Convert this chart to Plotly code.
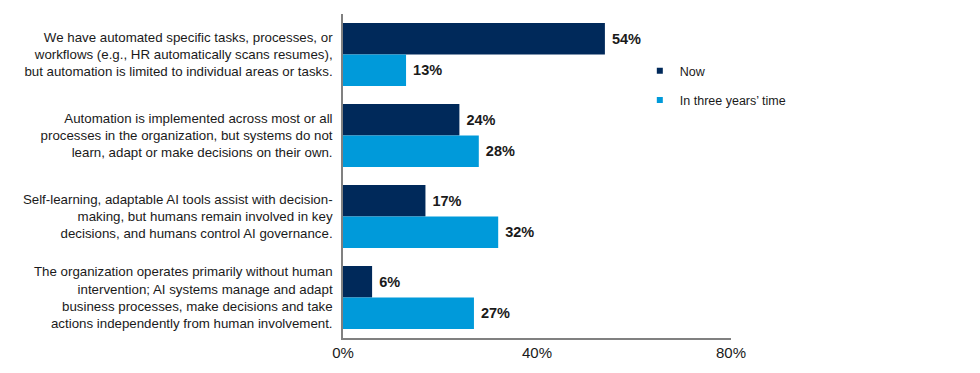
import plotly.graph_objects as go

categories = [
    "We have automated specific tasks, processes, or<br>workflows (e.g., HR automatically scans resumes),<br>but automation is limited to individual areas or tasks.",
    "Automation is implemented across most or all<br>processes in the organization, but systems do not<br>learn, adapt or make decisions on their own.",
    "Self-learning, adaptable AI tools assist with decision-<br>making, but humans remain involved in key<br>decisions, and humans control AI governance.",
    "The organization operates primarily without human<br>intervention; AI systems manage and adapt<br>business processes, make decisions and take<br>actions independently from human involvement.",
]
now_values = [54, 24, 17, 6]
future_values = [13, 28, 32, 27]
series_names = ["Now", "In three years\u2019 time"]
x_tickvals = [0, 40, 80]
x_ticktext = ["0%", "40%", "80%"]

c_now = "#00295A"
c_future = "#009ADA"
font_family = "Liberation Sans, Arial, sans-serif"

fig = go.Figure()
for name, vals, col in [(series_names[0], now_values, c_now), (series_names[1], future_values, c_future)]:
    fig.add_trace(go.Bar(
        y=categories, x=vals, orientation="h", name=name,
        marker=dict(color=col, line=dict(width=0)),
        text=[f"\u00a0{v}%" for v in vals],
        textposition="outside", cliponaxis=False,
        textfont=dict(family=font_family, size=14.5, color="#1a1a1a", weight="bold"),
        showlegend=False,
    ))
    fig.add_trace(go.Scatter(
        x=[None], y=[None], mode="markers", name=name, legendgroup=name,
        marker=dict(symbol="square", size=6, color=col),
        showlegend=True,
    ))

fig.update_layout(
    width=980, height=373,
    margin=dict(l=335, r=257, t=6, b=43),
    paper_bgcolor="white", plot_bgcolor="white",
    barmode="group", bargap=0.22, bargroupgap=0.0,
    font=dict(family=font_family, size=13.3, color="#1a1a1a"),
    legend=dict(x=0.765, y=0.87, xanchor="left", yanchor="top",
                font=dict(size=12.5, color="#1a1a1a"), itemwidth=30,
                tracegroupgap=10, bgcolor="rgba(0,0,0,0)"),
    xaxis=dict(range=[0, 80], tickvals=x_tickvals, ticktext=x_ticktext,
               showgrid=False, zeroline=False, showline=True, linecolor="#808080",
               linewidth=1.5, ticks="", tickfont=dict(size=15, color="#1a1a1a"),
               fixedrange=True),
    yaxis=dict(autorange="reversed", showgrid=False, zeroline=False, showline=True,
               linecolor="#808080", linewidth=1.5, ticks="", ticklabelstandoff=6,
               tickfont=dict(size=13.3, color="#1a1a1a"), fixedrange=True),
)

fig.write_html("out.html")
